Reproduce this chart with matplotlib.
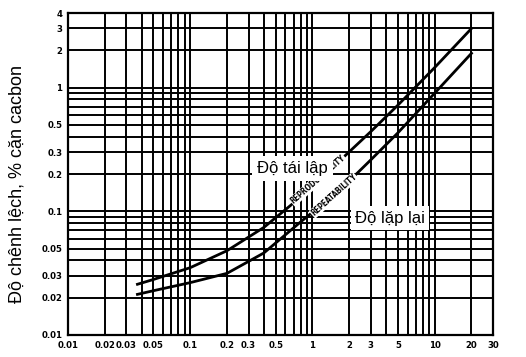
import matplotlib
matplotlib.use("Agg")
import matplotlib.pyplot as plt
from matplotlib.ticker import FixedLocator, NullFormatter

# ---- data ----
repro_x = [0.037, 0.05, 0.1, 0.2, 0.4, 0.8, 1.7, 3, 5, 10, 20]
repro_y = [0.0257, 0.0281, 0.035, 0.048, 0.074, 0.13, 0.26, 0.44, 0.72, 1.45, 3.0]
repeat_x = [0.037, 0.05, 0.1, 0.2, 0.4, 0.8, 1.7, 3, 5, 10, 20]
repeat_y = [0.0213, 0.0228, 0.0265, 0.0315, 0.046, 0.082, 0.15, 0.26, 0.43, 0.9, 1.89]

x_ticks = [0.01, 0.02, 0.03, 0.05, 0.1, 0.2, 0.3, 0.5, 1, 2, 3, 5, 10, 20, 30]
x_tick_labels = ["0.01", "0.02", "0.03", "0.05", "0.1", "0.2", "0.3", "0.5",
                 "1", "2", "3", "5", "10", "20", "30"]
y_ticks = [0.01, 0.02, 0.03, 0.05, 0.1, 0.2, 0.3, 0.5, 1, 2, 3, 4]
y_tick_labels = ["0.01", "0.02", "0.03", "0.05", "0.1", "0.2", "0.3", "0.5",
                 "1", "2", "3", "4"]
x_grid = [m * d for d in (0.01, 0.1, 1, 10) for m in range(1, 10)] + [30]
y_grid = [m * d for d in (0.01, 0.1, 1) for m in range(1, 10)] + [4]

ylabel = "Độ chênh lệch, % cặn cacbon"
label_repro = "Độ tái lập"
label_repeat = "Độ lặp lại"
curve_repro = "REPRODUCIBILITY"
curve_repeat = "REPEATABILITY"

# ---- figure ----
fig = plt.figure(figsize=(5.26, 3.57), dpi=100)
ax = fig.add_axes([68 / 526, 1 - 335 / 357, (493 - 68) / 526, (335 - 13) / 357])
ax.set_xscale("log")
ax.set_yscale("log")
ax.set_xlim(0.01, 30)
ax.set_ylim(0.01, 4)

ax.xaxis.set_major_locator(FixedLocator(x_ticks))
ax.yaxis.set_major_locator(FixedLocator(y_ticks))
ax.xaxis.set_minor_locator(FixedLocator(x_grid))
ax.yaxis.set_minor_locator(FixedLocator(y_grid))
ax.xaxis.set_minor_formatter(NullFormatter())
ax.yaxis.set_minor_formatter(NullFormatter())
tick_font = dict(family=["Liberation Sans Narrow", "DejaVu Sans"], weight="bold",
                 size=6.8, stretch="condensed")
ax.set_xticklabels(x_tick_labels, fontdict=tick_font)
ax.set_yticklabels(y_tick_labels, fontdict=tick_font)
ax.tick_params(which="both", length=0, pad=4)

ax.grid(which="both", color="black", linewidth=1.4)
ax.set_axisbelow(True)
for s in ax.spines.values():
    s.set_linewidth(1.6)
    s.set_color("black")

ax.plot(repro_x, repro_y, color="black", linewidth=2.0, zorder=3)
ax.plot(repeat_x, repeat_y, color="black", linewidth=2.0, zorder=3)

small = dict(family=["Liberation Sans Narrow", "DejaVu Sans"], weight="bold",
             size=5.5, stretch="condensed")
ax.text(1.11, 0.18, curve_repro, rotation=41, ha="center", va="center",
        rotation_mode="anchor", zorder=4,
        bbox=dict(facecolor="white", edgecolor="none", pad=0.4), **small)
ax.text(1.5, 0.135, curve_repeat, rotation=42, ha="center", va="center",
        rotation_mode="anchor", zorder=4,
        bbox=dict(facecolor="white", edgecolor="none", pad=0.4), **small)

big = dict(family=["Liberation Sans", "DejaVu Sans"], size=12)
ax.text(0.69, 0.22, label_repro, ha="center", va="center", zorder=5,
        bbox=dict(facecolor="white", edgecolor="none", boxstyle="square,pad=0.3"), **big)
ax.text(4.3, 0.088, label_repeat, ha="center", va="center", zorder=5,
        bbox=dict(facecolor="white", edgecolor="none", boxstyle="square,pad=0.25"), **big)

ax.set_ylabel(ylabel, family=["Liberation Sans", "DejaVu Sans"], size=13)
ax.yaxis.set_label_coords(-0.1, 0.47)

fig.savefig("out.png", dpi=100)
